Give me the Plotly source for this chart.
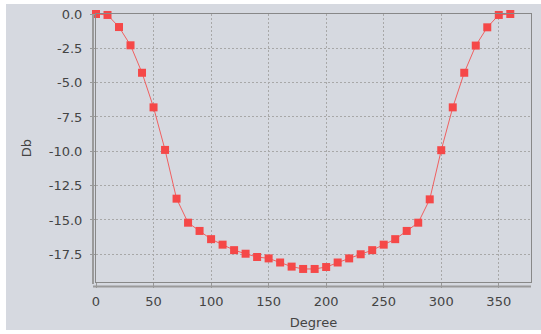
import plotly.graph_objects as go

degrees = [0, 10, 20, 30, 40, 50, 60, 70, 80, 90, 100, 110, 120, 130, 140, 150, 160, 170, 180,
           190, 200, 210, 220, 230, 240, 250, 260, 270, 280, 290, 300, 310, 320, 330, 340, 350, 360]
db = [0.0, -0.07, -0.95, -2.28, -4.28, -6.8, -9.9, -13.45, -15.2, -15.8, -16.4, -16.8, -17.2, -17.46,
      -17.7, -17.8, -18.1, -18.4, -18.57, -18.57, -18.43, -18.1, -17.8, -17.5, -17.2, -16.8, -16.4,
      -15.8, -15.2, -13.5, -9.92, -6.8, -4.28, -2.3, -0.97, -0.07, 0.0]
x_ticks = [0, 50, 100, 150, 200, 250, 300, 350]
y_ticks = [0.0, -2.5, -5.0, -7.5, -10.0, -12.5, -15.0, -17.5]

W, H = 541, 334
L, R, T, B = 96, 10, 14, 52
pw, ph = W - L - R, H - T - B

def px(x):
    return (x - L) / pw

def py(y):
    return (H - B - y) / ph

fig = go.Figure()
fig.add_trace(go.Scatter(
    x=degrees, y=db, mode="lines+markers",
    line=dict(color="#f06060", width=1),
    marker=dict(symbol="square", size=8, color="#f54848", line=dict(width=0)),
    showlegend=False, cliponaxis=False,
))

font = dict(family="DejaVu Sans", size=13, color="#444444")
grid = dict(showgrid=True, gridcolor="#a8a8a8", griddash="2px,2px", gridwidth=1,
            zeroline=False, showline=True, mirror=True, linecolor="#888888", linewidth=1,
            ticks="outside", ticklen=5, tickcolor="#999999", tickfont=font, automargin=False)

fig.update_layout(
    width=W, height=H,
    margin=dict(l=L, r=R, t=T, b=B),
    paper_bgcolor="white", plot_bgcolor="white",
    xaxis=dict(range=[0, 378], tickvals=x_ticks, ticktext=[str(v) for v in x_ticks],
               ticklabelstandoff=2,
               title=dict(text="Degree", font=font, standoff=10), **grid),
    yaxis=dict(range=[-19.52, 0], tickvals=y_ticks, ticktext=[f"{v:.1f}" for v in y_ticks],
               ticklabelstandoff=5,
               title=dict(text="Db", font=font, standoff=14), **grid),
    shapes=[
        dict(type="rect", xref="paper", yref="paper", x0=px(6), x1=px(541), y0=py(330), y1=py(4),
             fillcolor="#d6d9e0", line=dict(width=0), layer="below"),
        dict(type="line", xref="paper", yref="paper", x0=px(93), x1=px(93), y0=py(284), y1=py(14),
             line=dict(color="#9a9a9a", width=2)),
        dict(type="line", xref="paper", yref="paper", x0=px(93), x1=px(531), y0=py(286.5), y1=py(286.5),
             line=dict(color="#9a9a9a", width=2)),
    ],
)

fig.write_html("out.html")
